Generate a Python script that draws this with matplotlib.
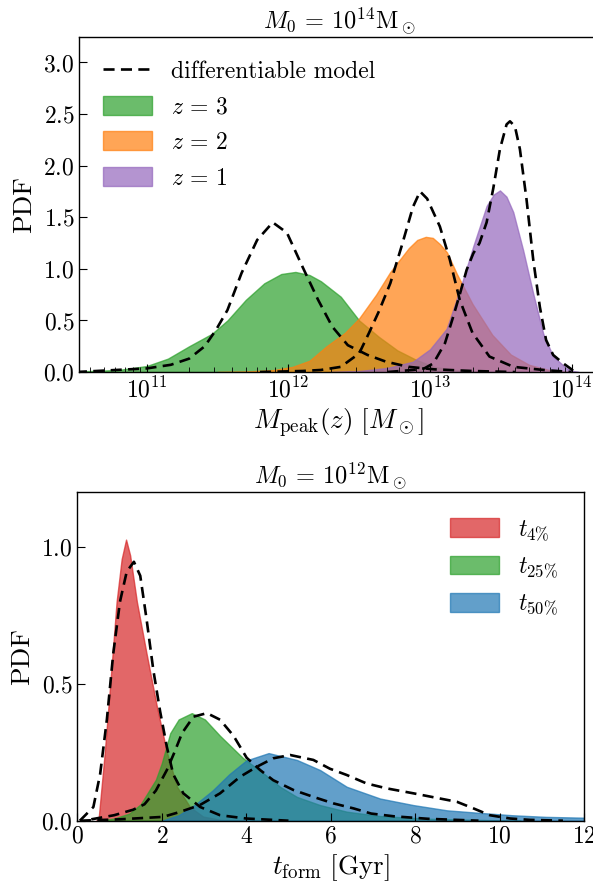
import numpy as np
import matplotlib
matplotlib.use("Agg")
import matplotlib.pyplot as plt
from matplotlib.patches import Patch
from matplotlib.lines import Line2D

# ---- top panel: M0 = 1e14, Mpeak(z) PDFs (x in log10 Msun) ----
logm_z3 = [10.5, 10.8, 11.0, 11.15, 11.3, 11.46, 11.57, 11.7, 11.83, 11.95, 12.05, 12.15,
           12.23, 12.37, 12.5, 12.64, 12.77, 12.9, 13.03, 13.17, 13.3, 13.5]
pdf_z3 = [0.005, 0.02, 0.058, 0.13, 0.25, 0.37, 0.5, 0.7, 0.86, 0.95, 0.97, 0.94,
          0.88, 0.73, 0.5, 0.34, 0.21, 0.12, 0.05, 0.02, 0.005, 0.0]

logm_z2 = [11.5, 11.7, 11.9, 12.03, 12.15, 12.27, 12.4, 12.5, 12.62, 12.72, 12.85, 12.91,
           12.97, 13.02, 13.07, 13.12, 13.19, 13.3, 13.44, 13.57, 13.7, 13.84, 14.0]
pdf_z2 = [0.0, 0.005, 0.02, 0.05, 0.11, 0.25, 0.38, 0.52, 0.75, 0.97, 1.2, 1.28,
          1.31, 1.30, 1.24, 1.16, 0.95, 0.66, 0.36, 0.17, 0.07, 0.02, 0.0]

logm_z1 = [12.3, 12.5, 12.7, 12.88, 13.0, 13.118, 13.212, 13.306, 13.4, 13.45, 13.494,
           13.54, 13.588, 13.658, 13.729, 13.8, 13.87, 13.965, 14.01, 14.05]
pdf_z1 = [0.0, 0.01, 0.04, 0.1, 0.22, 0.42, 0.8, 1.22, 1.61, 1.72, 1.76,
          1.70, 1.55, 1.18, 0.76, 0.37, 0.15, 0.036, 0.01, 0.0]

logm_m3 = [10.5, 11.0, 11.17, 11.3, 11.41, 11.49, 11.57, 11.67, 11.78, 11.89, 11.99, 12.1,
           12.21, 12.31, 12.42, 12.56, 12.69, 12.85, 13.03, 13.3, 13.6]
pdf_m3 = [0.0, 0.035, 0.07, 0.13, 0.25, 0.41, 0.6, 0.96, 1.28, 1.45, 1.35, 1.02,
          0.7, 0.44, 0.26, 0.165, 0.1, 0.05, 0.026, 0.01, 0.0]

logm_m2 = [11.8, 12.1, 12.23, 12.37, 12.5, 12.57, 12.64, 12.72, 12.8, 12.88, 12.93, 12.98,
           13.07, 13.14, 13.21, 13.3, 13.42, 13.59, 13.8, 14.0]
pdf_m2 = [0.0, 0.01, 0.02, 0.05, 0.18, 0.38, 0.59, 0.86, 1.22, 1.6, 1.75, 1.68,
          1.41, 1.09, 0.7, 0.38, 0.15, 0.05, 0.02, 0.0]

logm_m1 = [12.7, 12.88, 12.96, 13.024, 13.106, 13.165, 13.212, 13.259, 13.306, 13.35, 13.4,
           13.447, 13.494, 13.541, 13.565, 13.6, 13.635, 13.682, 13.729, 13.776, 13.82,
           13.87, 13.941, 14.0, 14.02]
pdf_m1 = [0.0, 0.02, 0.035, 0.084, 0.28, 0.54, 0.76, 0.99, 1.15, 1.25, 1.45,
          1.78, 2.16, 2.4, 2.43, 2.38, 2.16, 1.67, 1.09, 0.63, 0.31,
          0.165, 0.084, 0.026, 0.0]

# ---- bottom panel: M0 = 1e12, formation time PDFs ----
t_4 = [0.45, 0.5, 0.65, 0.775, 0.93, 1.05, 1.154, 1.25, 1.41, 1.64, 1.88, 2.12, 2.36,
       2.67, 2.98, 3.4, 4.0]
pdf_4 = [0.0, 0.0, 0.25, 0.49, 0.8, 0.956, 1.027, 0.97, 0.8, 0.61, 0.42, 0.25, 0.124,
         0.05, 0.015, 0.003, 0.0]

t_25 = [0.5, 0.87, 1.23, 1.5, 1.86, 2.0, 2.2, 2.4, 2.71, 3.02, 3.38, 3.93, 4.41, 4.8,
        5.2, 5.75, 6.38, 7.17, 8.35, 9.5, 10.5]
pdf_25 = [0.0, 0.008, 0.026, 0.06, 0.15, 0.21, 0.32, 0.37, 0.393, 0.37, 0.31, 0.228,
          0.173, 0.124, 0.087, 0.057, 0.033, 0.017, 0.007, 0.003, 0.0]

t_50 = [2.0, 2.4, 2.8, 3.2, 3.6, 4.0, 4.53, 5.2, 5.75, 6.38, 7.17, 7.96, 8.75, 9.5,
        10.3, 11.1, 12.0]
pdf_50 = [0.0, 0.02, 0.06, 0.11, 0.17, 0.22, 0.247, 0.222, 0.185, 0.124, 0.081, 0.057,
          0.038, 0.029, 0.02, 0.014, 0.011]

tm_4 = [0.06, 0.38, 0.54, 0.7, 0.85, 1.01, 1.17, 1.34, 1.49, 1.64, 1.8, 1.96, 2.12, 2.27,
        2.51, 2.91, 3.38, 4.0, 5.0]
pdfm_4 = [0.0, 0.05, 0.17, 0.37, 0.61, 0.8, 0.91, 0.946, 0.895, 0.736, 0.55, 0.4, 0.27,
          0.17, 0.1, 0.05, 0.02, 0.008, 0.0]

tm_25 = [0.33, 0.87, 1.32, 1.59, 1.86, 2.12, 2.3, 2.48, 2.75, 3.07, 3.38, 3.7, 4.01,
         4.33, 4.64, 5.12, 5.59, 6.07, 6.54, 6.96, 7.5, 8.3, 9.5]
pdfm_25 = [0.005, 0.02, 0.04, 0.06, 0.11, 0.185, 0.25, 0.32, 0.38, 0.393, 0.369, 0.31,
           0.23, 0.185, 0.148, 0.112, 0.087, 0.063, 0.045, 0.026, 0.016, 0.007, 0.0]

tm_50 = [0.06, 1.0, 2.03, 2.43, 2.9, 3.38, 3.85, 4.25, 4.64, 5.04, 5.59, 5.98, 6.38,
         6.85, 7.33, 7.96, 8.59, 8.99, 9.38, 9.77, 10.25, 10.72, 11.5]
pdfm_50 = [0.0, 0.005, 0.014, 0.032, 0.057, 0.1, 0.16, 0.197, 0.228, 0.24, 0.222, 0.19,
           0.167, 0.136, 0.118, 0.1, 0.081, 0.069, 0.045, 0.02, 0.008, 0.003, 0.0]


def main():
    plt.rcParams.update({
        "font.family": "serif",
        "font.serif": ["cmr10"],
        "mathtext.fontset": "cm",
        "axes.formatter.use_mathtext": True,
        "axes.unicode_minus": False,
        "xtick.direction": "in",
        "ytick.direction": "in",
        "xtick.major.size": 6,
        "ytick.major.size": 6,
        "xtick.minor.size": 3.5,
        "xtick.labelsize": 17,
        "ytick.labelsize": 17,
        "axes.linewidth": 1.0,
    })

    fig = plt.figure(figsize=(5.93, 8.86), dpi=100)
    ax1 = fig.add_axes([0.1337, 0.5801, 0.8763, 0.3785])
    ax2 = fig.add_axes([0.1304, 0.0737, 0.8545, 0.3707])

    a = 0.7
    dash = dict(color="k", ls=(0, (4.2, 2.4)), lw=1.9)

    # top panel
    for lm, p, c in [(logm_z3, pdf_z3, "#2ca02c"), (logm_z2, pdf_z2, "#ff7f0e"),
                     (logm_z1, pdf_z1, "#9467bd")]:
        ax1.fill_between(10 ** np.array(lm), p, color=c, alpha=a, lw=1)
    for lm, p in [(logm_m3, pdf_m3), (logm_m2, pdf_m2), (logm_m1, pdf_m1)]:
        ax1.plot(10 ** np.array(lm), p, **dash)
    ax1.set_xscale("log")
    ax1.set_xlim(10 ** 10.524, 10 ** 14.193)
    ax1.set_ylim(0, 3.25)
    ax1.set_yticks(np.arange(0, 3.01, 0.5))
    ax1.set_xlabel(r"$M_{\rm peak}(z)\ [M_\odot]$", fontsize=19.5, labelpad=3)
    ax1.set_ylabel("PDF", fontsize=19.5, labelpad=5)
    ax1.set_title(r"$M_0\,=\,10^{14}{\rm M}_\odot$", fontsize=17.5, pad=5)
    handles = [Line2D([], [], **dash),
               Patch(facecolor="#2ca02c", edgecolor="#2ca02c", alpha=a),
               Patch(facecolor="#ff7f0e", edgecolor="#ff7f0e", alpha=a),
               Patch(facecolor="#9467bd", edgecolor="#9467bd", alpha=a)]
    ax1.legend(handles, ["differentiable model", r"$z\,=\,3$", r"$z\,=\,2$", r"$z\,=\,1$"],
               loc="upper left", frameon=False, fontsize=17, handlelength=2.1,
               handleheight=0.85, labelspacing=0.55, handletextpad=0.8,
               borderaxespad=0.6)

    # bottom panel
    for t, p, c in [(t_4, pdf_4, "#d62728"), (t_25, pdf_25, "#2ca02c"),
                    (t_50, pdf_50, "#1f77b4")]:
        ax2.fill_between(t, p, color=c, alpha=a, lw=1)
    for t, p in [(tm_4, pdfm_4), (tm_25, pdfm_25), (tm_50, pdfm_50)]:
        ax2.plot(t, p, **dash)
    ax2.set_xlim(0, 12)
    ax2.set_ylim(0, 1.2)
    ax2.set_yticks([0, 0.5, 1.0])
    ax2.set_xlabel(r"$t_{\rm form}\ [{\rm Gyr}]$", fontsize=19.5, labelpad=3)
    ax2.set_ylabel("PDF", fontsize=19.5, labelpad=5)
    ax2.set_title(r"$M_0\,=\,10^{12}{\rm M}_\odot$", fontsize=17.5, pad=3)
    handles = [Patch(facecolor="#d62728", edgecolor="#d62728", alpha=a),
               Patch(facecolor="#2ca02c", edgecolor="#2ca02c", alpha=a),
               Patch(facecolor="#1f77b4", edgecolor="#1f77b4", alpha=a)]
    ax2.legend(handles, [r"$t_{4\%}$", r"$t_{25\%}$", r"$t_{50\%}$"],
               loc="upper right", frameon=False, fontsize=17, handlelength=2.1,
               handleheight=0.85, labelspacing=0.55, handletextpad=0.8,
               borderaxespad=0.7)

    fig.savefig("out.png", dpi=100)
    plt.close(fig)


if __name__ == "__main__":
    main()
